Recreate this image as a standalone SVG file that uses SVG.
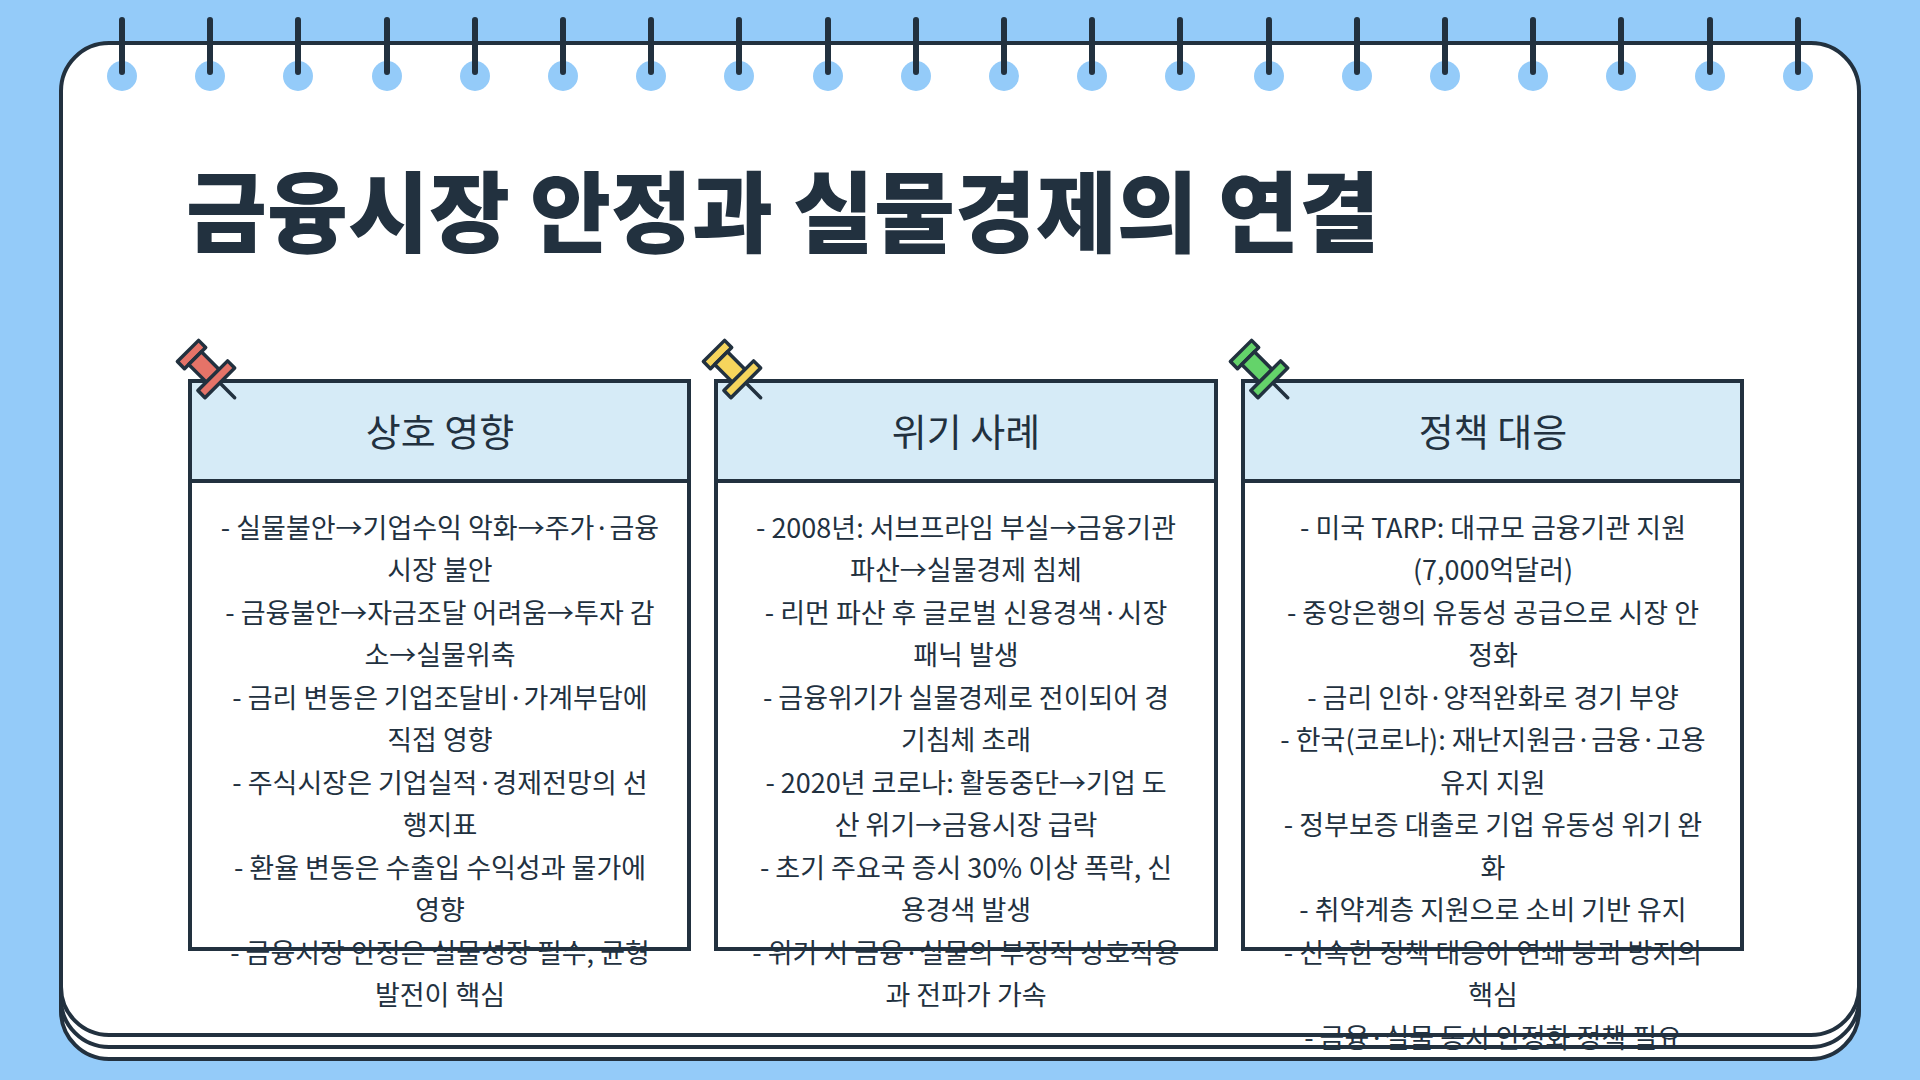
<svg xmlns="http://www.w3.org/2000/svg" width="1920" height="1080" viewBox="0 0 1920 1080">
<defs>
<style>
.pg{fill:#fff;stroke:#22313f;stroke-width:4}
.ring{stroke:#22313f;stroke-width:6;stroke-linecap:round}
.hole{fill:#94cbf9}
.card{fill:#fff;stroke:#22313f;stroke-width:4}
.hdr{fill:#d6ebf7;stroke:#22313f;stroke-width:4}
.ht{font-family:"Noto Sans CJK KR","Noto Sans",sans-serif;font-size:38px;fill:#22313f;text-anchor:middle}
.bt{font-family:"Noto Sans CJK KR","Noto Sans",sans-serif;font-size:27px;fill:#22313f;text-anchor:middle}
.pin rect{stroke:#22313f;stroke-width:3.5;stroke-linejoin:round}
.pin line{stroke:#22313f;stroke-width:3.5;stroke-linecap:round}
</style>
<g id="pinShape" class="pin">
<line x1="40" y1="0" x2="66" y2="0"/>
<rect x="0" y="-15" width="10" height="30"/>
<rect x="10" y="-9" width="25" height="18"/>
<rect x="35" y="-21" width="10" height="42"/>
</g>
</defs>
<rect width="1920" height="1080" fill="#94cbf9"/>
<g id="page">
<rect class="pg" x="61" y="67" width="1798" height="992" rx="48"/>
<rect class="pg" x="61" y="55" width="1798" height="992" rx="48"/>
<rect class="pg" x="61" y="43" width="1798" height="992" rx="48"/>
</g>
<g id="rings">
<g id="holes">
<circle class="hole" cx="122" cy="76" r="15"/><circle class="hole" cx="210" cy="76" r="15"/><circle class="hole" cx="298" cy="76" r="15"/><circle class="hole" cx="387" cy="76" r="15"/><circle class="hole" cx="475" cy="76" r="15"/><circle class="hole" cx="563" cy="76" r="15"/><circle class="hole" cx="651" cy="76" r="15"/><circle class="hole" cx="739" cy="76" r="15"/><circle class="hole" cx="828" cy="76" r="15"/><circle class="hole" cx="916" cy="76" r="15"/><circle class="hole" cx="1004" cy="76" r="15"/><circle class="hole" cx="1092" cy="76" r="15"/><circle class="hole" cx="1180" cy="76" r="15"/><circle class="hole" cx="1269" cy="76" r="15"/><circle class="hole" cx="1357" cy="76" r="15"/><circle class="hole" cx="1445" cy="76" r="15"/><circle class="hole" cx="1533" cy="76" r="15"/><circle class="hole" cx="1621" cy="76" r="15"/><circle class="hole" cx="1710" cy="76" r="15"/><circle class="hole" cx="1798" cy="76" r="15"/>
</g>
<path class="ring" d="M122 20V72M210 20V72M298 20V72M387 20V72M475 20V72M563 20V72M651 20V72M739 20V72M828 20V72M916 20V72M1004 20V72M1092 20V72M1180 20V72M1269 20V72M1357 20V72M1445 20V72M1533 20V72M1621 20V72M1710 20V72M1798 20V72"/>
</g>
<text id="title" x="186" y="245" font-family="'Noto Sans CJK KR',sans-serif" font-size="88" font-weight="900" fill="#22313f">금융시장 안정과 실물경제의 연결</text>

<g id="card1">
<rect class="card" x="190" y="381" width="499" height="568"/>
<rect class="hdr" x="190" y="381" width="499" height="100"/>
<text class="ht" x="440" y="446">상호 영향</text>
<text class="bt" x="440"><tspan x="440" y="538">- 실물불안→기업수익 악화→주가·금융</tspan><tspan x="440" y="580">시장 불안</tspan><tspan x="440" y="623">- 금융불안→자금조달 어려움→투자 감</tspan><tspan x="440" y="665">소→실물위축</tspan><tspan x="440" y="708">- 금리 변동은 기업조달비·가계부담에</tspan><tspan x="440" y="750">직접 영향</tspan><tspan x="440" y="793">- 주식시장은 기업실적·경제전망의 선</tspan><tspan x="440" y="835">행지표</tspan><tspan x="440" y="878">- 환율 변동은 수출입 수익성과 물가에</tspan><tspan x="440" y="920">영향</tspan><tspan x="440" y="963">- 금융시장 안정은 실물성장 필수, 균형</tspan><tspan x="440" y="1005">발전이 핵심</tspan></text>
<use href="#pinShape" transform="translate(188,351) rotate(45)" style="fill:#e57368"/>
</g>

<g id="card2">
<rect class="card" x="716" y="381" width="500" height="568"/>
<rect class="hdr" x="716" y="381" width="500" height="100"/>
<text class="ht" x="966" y="446">위기 사례</text>
<text class="bt" x="966"><tspan x="966" y="538">- 2008년: 서브프라임 부실→금융기관</tspan><tspan x="966" y="580">파산→실물경제 침체</tspan><tspan x="966" y="623">- 리먼 파산 후 글로벌 신용경색·시장</tspan><tspan x="966" y="665">패닉 발생</tspan><tspan x="966" y="708">- 금융위기가 실물경제로 전이되어 경</tspan><tspan x="966" y="750">기침체 초래</tspan><tspan x="966" y="793">- 2020년 코로나: 활동중단→기업 도</tspan><tspan x="966" y="835">산 위기→금융시장 급락</tspan><tspan x="966" y="878">- 초기 주요국 증시 30% 이상 폭락, 신</tspan><tspan x="966" y="920">용경색 발생</tspan><tspan x="966" y="963">- 위기 시 금융·실물의 부정적 상호작용</tspan><tspan x="966" y="1005">과 전파가 가속</tspan></text>
<use href="#pinShape" transform="translate(714,351) rotate(45)" style="fill:#f6d55c"/>
</g>

<g id="card3">
<rect class="card" x="1243" y="381" width="499" height="568"/>
<rect class="hdr" x="1243" y="381" width="499" height="100"/>
<text class="ht" x="1493" y="446">정책 대응</text>
<text class="bt" x="1493"><tspan x="1493" y="538">- 미국 TARP: 대규모 금융기관 지원</tspan><tspan x="1493" y="580">(7,000억달러)</tspan><tspan x="1493" y="623">- 중앙은행의 유동성 공급으로 시장 안</tspan><tspan x="1493" y="665">정화</tspan><tspan x="1493" y="708">- 금리 인하·양적완화로 경기 부양</tspan><tspan x="1493" y="750">- 한국(코로나): 재난지원금·금융·고용</tspan><tspan x="1493" y="793">유지 지원</tspan><tspan x="1493" y="835">- 정부보증 대출로 기업 유동성 위기 완</tspan><tspan x="1493" y="878">화</tspan><tspan x="1493" y="920">- 취약계층 지원으로 소비 기반 유지</tspan><tspan x="1493" y="963">- 신속한 정책 대응이 연쇄 붕괴 방지의</tspan><tspan x="1493" y="1005">핵심</tspan><tspan x="1493" y="1048">- 금융·실물 동시 안정화 정책 필요</tspan></text>
<use href="#pinShape" transform="translate(1241,351) rotate(45)" style="fill:#64d36a"/>
</g>
</svg>
